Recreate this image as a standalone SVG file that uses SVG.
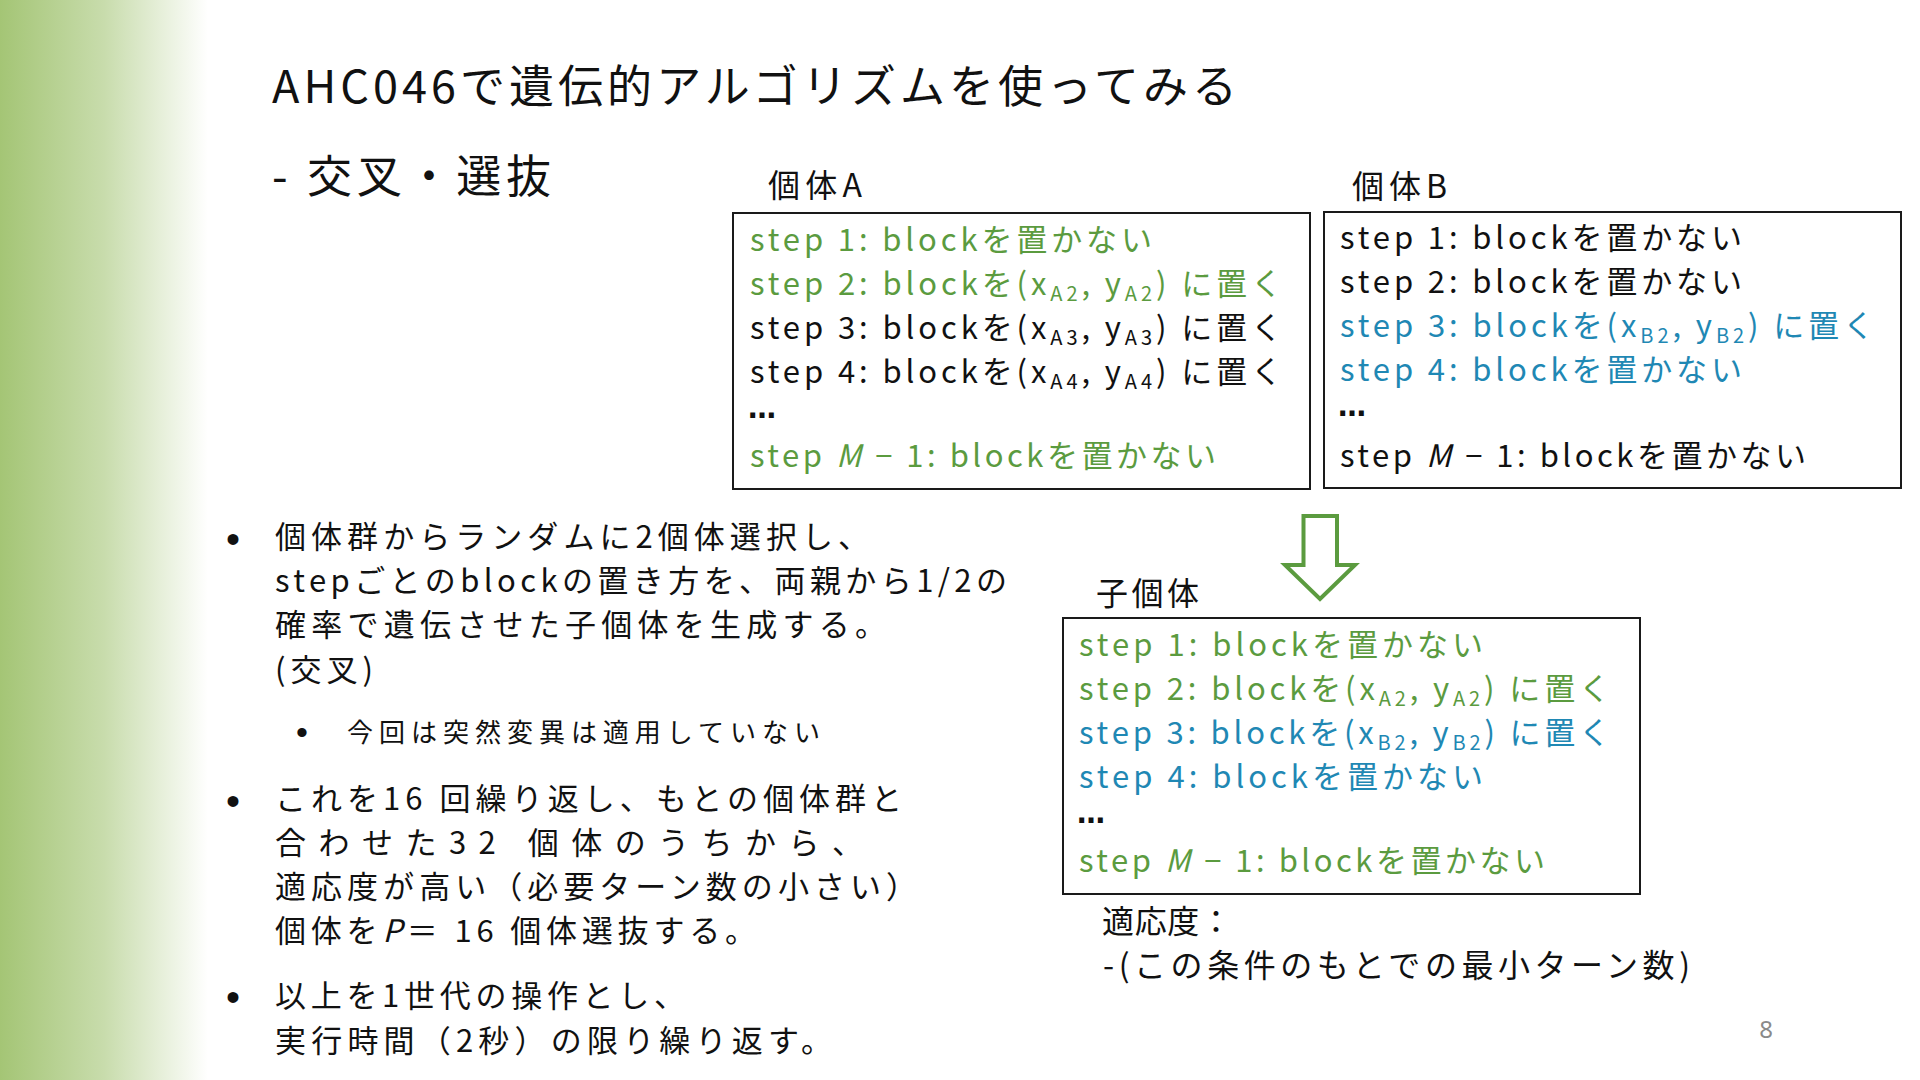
<svg xmlns="http://www.w3.org/2000/svg" width="1920" height="1080" viewBox="0 0 1920 1080">
  <defs>
    <linearGradient id="side" x1="0" y1="0" x2="1" y2="0">
      <stop offset="0" stop-color="#a4c575"/>
      <stop offset="0.5" stop-color="#c8dcac"/>
      <stop offset="1" stop-color="#ffffff"/>
    </linearGradient>
    <style>
      text { font-family: "Noto Sans CJK JP", "Noto Sans", sans-serif; fill: #111; }
      .title { font-size: 45px; }
      .lbl { font-size: 32px; }
      .st { font-size: 31px; }
      .body { font-size: 31px; }
      .small { font-size: 26px; }
      .sub { font-size: 20px; }
      .g { fill: #5b9b3f; }
      .b { fill: #1f88b4; }
      .it { font-style: italic; }
      .dot { font-family: "Liberation Sans", sans-serif; font-size: 40px; }
      .dots { font-family: "DejaVu Sans", sans-serif; font-size: 28px; font-weight: bold; }
      .box { fill: #ffffff; stroke: #1a1a1a; stroke-width: 2; }
      .arrow { fill: #ffffff; stroke: #5b9b3f; stroke-width: 4; stroke-linejoin: miter; }
      .pg { font-family: "Noto Sans", sans-serif; font-size: 24px; fill: #8a8a8a; }
    </style>
  </defs>

  <rect x="0" y="0" width="1920" height="1080" fill="#ffffff"/>
  <rect x="0" y="0" width="208" height="1080" fill="url(#side)"/>

  <g id="title">
    <text class="title" x="272" y="103" textLength="965" lengthAdjust="spacing">AHC046で遺伝的アルゴリズムを使ってみる</text>
    <text class="title" x="272" y="193" textLength="279" lengthAdjust="spacing">- 交叉・選抜</text>
  </g>

  <g id="individualA">
    <text class="lbl" x="768" y="197" textLength="94" lengthAdjust="spacing">個体A</text>
    <rect class="box" x="733" y="213" width="577" height="276"/>
    <text class="st g" x="750" y="251" textLength="402" lengthAdjust="spacing">step 1: blockを置かない</text>
    <text class="st g" x="750" y="295" textLength="532" lengthAdjust="spacing">step 2: blockを(x<tspan class="sub" dy="6">A2</tspan><tspan dy="-6">, y</tspan><tspan class="sub" dy="6">A2</tspan><tspan dy="-6">) に置く</tspan></text>
    <text class="st" x="750" y="339" textLength="532" lengthAdjust="spacing">step 3: blockを(x<tspan class="sub" dy="6">A3</tspan><tspan dy="-6">, y</tspan><tspan class="sub" dy="6">A3</tspan><tspan dy="-6">) に置く</tspan></text>
    <text class="st" x="750" y="383" textLength="532" lengthAdjust="spacing">step 4: blockを(x<tspan class="sub" dy="6">A4</tspan><tspan dy="-6">, y</tspan><tspan class="sub" dy="6">A4</tspan><tspan dy="-6">) に置く</tspan></text>
    <text class="dots" x="748" y="418">…</text>
    <text class="st g" x="750" y="467" textLength="466" lengthAdjust="spacing">step <tspan class="it">M</tspan> − 1: blockを置かない</text>
  </g>

  <g id="individualB">
    <text class="lbl" x="1352" y="198" textLength="95" lengthAdjust="spacing">個体B</text>
    <rect class="box" x="1324" y="212" width="577" height="276"/>
    <text class="st" x="1340" y="249" textLength="402" lengthAdjust="spacing">step 1: blockを置かない</text>
    <text class="st" x="1340" y="293" textLength="402" lengthAdjust="spacing">step 2: blockを置かない</text>
    <text class="st b" x="1340" y="337" textLength="534" lengthAdjust="spacing">step 3: blockを(x<tspan class="sub" dy="6">B2</tspan><tspan dy="-6">, y</tspan><tspan class="sub" dy="6">B2</tspan><tspan dy="-6">) に置く</tspan></text>
    <text class="st b" x="1340" y="381" textLength="402" lengthAdjust="spacing">step 4: blockを置かない</text>
    <text class="dots" x="1338" y="416">…</text>
    <text class="st" x="1340" y="467" textLength="466" lengthAdjust="spacing">step <tspan class="it">M</tspan> − 1: blockを置かない</text>
  </g>

  <g id="connectors">
    <path class="arrow" d="M1303.5,516 H1337 V565 H1355 L1320,599 L1285,565 H1303.5 Z"/>
  </g>

  <g id="child">
    <text class="lbl" x="1096" y="605" textLength="103" lengthAdjust="spacing">子個体</text>
    <rect class="box" x="1063" y="618" width="577" height="276"/>
    <text class="st g" x="1079" y="656" textLength="404" lengthAdjust="spacing">step 1: blockを置かない</text>
    <text class="st g" x="1079" y="700" textLength="531" lengthAdjust="spacing">step 2: blockを(x<tspan class="sub" dy="6">A2</tspan><tspan dy="-6">, y</tspan><tspan class="sub" dy="6">A2</tspan><tspan dy="-6">) に置く</tspan></text>
    <text class="st b" x="1079" y="744" textLength="531" lengthAdjust="spacing">step 3: blockを(x<tspan class="sub" dy="6">B2</tspan><tspan dy="-6">, y</tspan><tspan class="sub" dy="6">B2</tspan><tspan dy="-6">) に置く</tspan></text>
    <text class="st b" x="1079" y="788" textLength="404" lengthAdjust="spacing">step 4: blockを置かない</text>
    <text class="dots" x="1077" y="823">…</text>
    <text class="st g" x="1079" y="872" textLength="466" lengthAdjust="spacing">step <tspan class="it">M</tspan> − 1: blockを置かない</text>
  </g>

  <g id="fitness">
    <text class="lbl" x="1102" y="933" textLength="130" lengthAdjust="spacing">適応度：</text>
    <text class="lbl" x="1103" y="977" textLength="587" lengthAdjust="spacing">-(この条件のもとでの最小ターン数)</text>
  </g>

  <g id="bullets">
    <text class="dot" x="233" y="553" text-anchor="middle">•</text>
    <text class="body" x="275" y="548" textLength="594" lengthAdjust="spacing">個体群からランダムに2個体選択し、</text>
    <text class="body" x="275" y="592" textLength="732" lengthAdjust="spacing">stepごとのblockの置き方を、両親から1/2の</text>
    <text class="body" x="275" y="636" textLength="611" lengthAdjust="spacing">確率で遺伝させた子個体を生成する。</text>
    <text class="body" x="275" y="681" textLength="98" lengthAdjust="spacing">(交叉)</text>

    <text class="dot" x="302" y="744" text-anchor="middle" style="font-size:34px">•</text>
    <text class="small" x="347" y="742" textLength="473" lengthAdjust="spacing">今回は突然変異は適用していない</text>

    <text class="dot" x="233" y="815" text-anchor="middle">•</text>
    <text class="body" x="275" y="810" textLength="627" lengthAdjust="spacing">これを16 回繰り返し、もとの個体群と</text>
    <text class="body" x="275" y="854" textLength="588" lengthAdjust="spacing">合わせた32 個体のうちから、</text>
    <text class="body" x="275" y="898" textLength="642" lengthAdjust="spacing">適応度が高い（必要ターン数の小さい）</text>
    <text class="body" x="275" y="942" textLength="481" lengthAdjust="spacing">個体を<tspan class="it">P</tspan>＝ 16 個体選抜する。</text>

    <text class="dot" x="233" y="1011" text-anchor="middle">•</text>
    <text class="body" x="275" y="1007" textLength="410" lengthAdjust="spacing">以上を1世代の操作とし、</text>
    <text class="body" x="275" y="1052" textLength="557" lengthAdjust="spacing">実行時間（2秒）の限り繰り返す。</text>
  </g>

  <text class="pg" x="1766" y="1038" text-anchor="middle">8</text>
</svg>
